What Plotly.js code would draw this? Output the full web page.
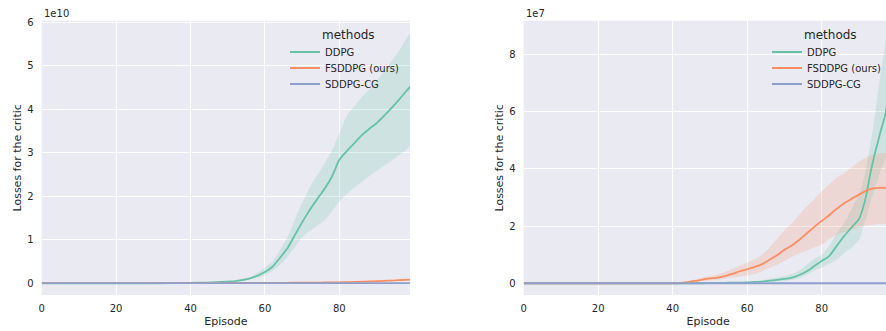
<!DOCTYPE html>
<html>
<head>
<meta charset="utf-8">
<script src="https://cdn.plot.ly/plotly-3.0.1.min.js"></script>
<style>
html,body{margin:0;padding:0;overflow:hidden;background:#fff;width:886px;height:331px;}
#chart{width:900px;height:331px;}
</style>
</head>
<body>
<div id="chart"></div>
<script>
// ---------- Data (left panel, values in units of 1e10) ----------
const episodesL = [0, 10, 20, 30, 40, 44, 48, 52, 56, 60, 62, 64, 66, 68, 70, 72, 74, 76, 78, 80, 82, 84, 86, 88, 90, 92, 94, 96, 98, 99];
const ddpgL      = [0, 0, 0, 0, 0.01, 0.015, 0.03, 0.05, 0.11, 0.26, 0.38, 0.58, 0.80, 1.10, 1.40, 1.68, 1.93, 2.17, 2.45, 2.84, 3.04, 3.22, 3.40, 3.55, 3.68, 3.85, 4.03, 4.22, 4.42, 4.52];
const ddpgLUp    = [0, 0, 0, 0, 0.012, 0.018, 0.035, 0.06, 0.14, 0.36, 0.50, 0.75, 1.05, 1.45, 1.85, 2.20, 2.48, 2.75, 3.05, 3.45, 3.85, 4.07, 4.27, 4.45, 4.65, 4.88, 5.10, 5.35, 5.62, 5.75];
const ddpgLLo    = [0, 0, 0, 0, 0.008, 0.012, 0.025, 0.04, 0.09, 0.18, 0.28, 0.42, 0.60, 0.82, 1.05, 1.20, 1.32, 1.45, 1.65, 1.88, 2.05, 2.20, 2.33, 2.46, 2.58, 2.70, 2.82, 2.94, 3.07, 3.15];
const fsddpgL    = [0.002, 0.002, 0.002, 0.003, 0.004, 0.004, 0.005, 0.006, 0.007, 0.008, 0.009, 0.010, 0.011, 0.012, 0.013, 0.014, 0.016, 0.018, 0.020, 0.022, 0.026, 0.030, 0.035, 0.040, 0.048, 0.055, 0.062, 0.070, 0.080, 0.085];
const sddpgL     = [0.004, 0.004, 0.004, 0.004, 0.004, 0.004, 0.004, 0.004, 0.004, 0.004, 0.004, 0.004, 0.004, 0.004, 0.004, 0.004, 0.004, 0.004, 0.004, 0.004, 0.004, 0.004, 0.004, 0.004, 0.004, 0.004, 0.004, 0.004, 0.004, 0.004];

// ---------- Data (right panel, values in units of 1e7) ----------
const episodesR = [0, 10, 20, 30, 40, 42, 44, 46, 48, 50, 52, 54, 56, 58, 60, 62, 64, 66, 68, 70, 72, 74, 76, 78, 80, 82, 84, 86, 88, 90, 91, 92, 93, 94, 95, 96, 97, 98, 99];
const ddpgR      = [0, 0, 0, 0, 0, 0, 0, 0, 0, 0.005, 0.01, 0.015, 0.02, 0.025, 0.03, 0.045, 0.06, 0.09, 0.12, 0.15, 0.20, 0.29, 0.42, 0.60, 0.78, 0.95, 1.30, 1.65, 1.95, 2.25, 2.60, 3.10, 3.80, 4.40, 4.90, 5.40, 5.85, 6.50, 7.10];
const ddpgRUp    = [0, 0, 0, 0, 0, 0, 0, 0, 0, 0.008, 0.015, 0.02, 0.03, 0.04, 0.05, 0.075, 0.10, 0.15, 0.20, 0.25, 0.32, 0.45, 0.65, 0.85, 1.00, 1.30, 1.75, 2.10, 2.60, 3.10, 3.50, 4.10, 4.80, 5.60, 6.60, 7.50, 8.30, 9.20, 10.0];
const ddpgRLo    = [0, 0, 0, 0, 0, 0, 0, 0, 0, 0.002, 0.005, 0.008, 0.01, 0.01, 0.01, 0.02, 0.03, 0.045, 0.06, 0.08, 0.12, 0.18, 0.30, 0.45, 0.55, 0.68, 0.82, 1.05, 1.25, 1.50, 1.90, 2.30, 2.80, 3.20, 3.60, 4.00, 4.30, 4.80, 5.20];
const fsddpgR    = [0, 0, 0, 0, 0, 0.01, 0.04, 0.08, 0.13, 0.17, 0.20, 0.25, 0.33, 0.42, 0.49, 0.57, 0.67, 0.82, 0.98, 1.17, 1.32, 1.52, 1.75, 1.97, 2.18, 2.38, 2.60, 2.80, 2.95, 3.10, 3.17, 3.24, 3.29, 3.32, 3.33, 3.34, 3.33, 3.32, 3.30];
const fsddpgRUp  = [0, 0, 0, 0, 0, 0.02, 0.06, 0.13, 0.20, 0.25, 0.30, 0.40, 0.50, 0.61, 0.72, 0.85, 1.00, 1.25, 1.55, 1.85, 2.10, 2.40, 2.68, 2.95, 3.22, 3.45, 3.70, 3.85, 4.05, 4.25, 4.33, 4.40, 4.46, 4.50, 4.53, 4.55, 4.55, 4.55, 4.55];
const fsddpgRLo  = [0, 0, 0, 0, 0, 0.005, 0.02, 0.05, 0.08, 0.10, 0.12, 0.16, 0.20, 0.24, 0.27, 0.32, 0.42, 0.53, 0.65, 0.78, 0.92, 1.05, 1.15, 1.25, 1.35, 1.55, 1.70, 1.78, 1.86, 1.95, 1.99, 2.02, 2.04, 2.05, 2.06, 2.07, 2.07, 2.08, 2.08];
const sddpgR     = episodesR.map(() => 0);

const methods = ["DDPG", "FSDDPG (ours)", "SDDPG-CG"];
const legendTitle = "methods";
const colors  = ["#66c2a5", "#fc8d62", "#8da0cb"];
const fills   = ["rgba(102,194,165,0.2)", "rgba(252,141,98,0.2)"];
const xTicks  = [0, 20, 40, 60, 80];

// ---------- Traces ----------
function band(x, lo, up, fill, xa, ya) {
  return [
    {x: x, y: lo, xaxis: xa, yaxis: ya, mode: "lines", line: {width: 0, shape: "spline", smoothing: 0.6}, hoverinfo: "skip", showlegend: false},
    {x: x, y: up, xaxis: xa, yaxis: ya, mode: "lines", line: {width: 0, shape: "spline", smoothing: 0.6}, fill: "tonexty", fillcolor: fill, hoverinfo: "skip", showlegend: false}
  ];
}
function line(x, y, i, xa, ya, leg) {
  return {x: x, y: y, xaxis: xa, yaxis: ya, mode: "lines", name: methods[i], legend: leg,
          line: {color: colors[i], width: 1.8, shape: "spline", smoothing: 0.6}};
}

// each legend entry gets its own legend box so the row spacing matches the original
const traces = [].concat(
  band(episodesL, ddpgLLo, ddpgLUp, fills[0], "x", "y"),
  [line(episodesL, ddpgL, 0, "x", "y", "legend"),
   line(episodesL, fsddpgL, 1, "x", "y", "legend3"),
   line(episodesL, sddpgL, 2, "x", "y", "legend4")],
  band(episodesR, ddpgRLo, ddpgRUp, fills[0], "x2", "y2"),
  band(episodesR, fsddpgRLo, fsddpgRUp, fills[1], "x2", "y2"),
  [line(episodesR, ddpgR, 0, "x2", "y2", "legend2"),
   line(episodesR, fsddpgR, 1, "x2", "y2", "legend5"),
   line(episodesR, sddpgR, 2, "x2", "y2", "legend6")]
);

// ---------- Layout ----------
const W = 900, H = 331;
const font = {family: "DejaVu Sans", size: 10, color: "#262626"};
function xAxis(dom, anchor) {
  return {domain: dom, anchor: anchor, range: [0, 99], tickvals: xTicks, ticktext: xTicks.map(String),
          showgrid: true, gridcolor: "#ffffff", gridwidth: 1, zeroline: false, showline: false,
          ticks: "", ticklabelstandoff: 6, tickfont: {size: 10, color: "#262626"},
          title: {text: "Episode", font: {size: 11, color: "#262626"}, standoff: 4}, automargin: false};
}
function yAxis(range, ticks, anchor) {
  return {domain: [(H - 295) / H, (H - 20.7) / H], anchor: anchor, range: range, tickvals: ticks, ticktext: ticks.map(String),
          showgrid: true, gridcolor: "#ffffff", gridwidth: 1, zeroline: false, showline: false,
          ticks: "", ticklabelstandoff: 7, tickfont: {size: 10, color: "#262626"},
          title: {text: "Losses for the critic", font: {size: 11, color: "#262626"}, standoff: 3}, automargin: false};
}
function rowLegend(xpx, ypx) {
  return {x: xpx / W, y: (H - ypx) / H, xanchor: "left", yanchor: "middle", bgcolor: "rgba(0,0,0,0)",
          borderwidth: 0, font: {size: 10, color: "#262626"}};
}
function note(text, xpx, ypx, xanchor, size) {
  return {text: text, xref: "paper", yref: "paper", x: xpx / W, y: (H - ypx) / H, xanchor: xanchor, yanchor: "middle",
          showarrow: false, font: {size: size, color: "#262626"}};
}

const layout = {
  width: W, height: H,
  margin: {l: 0, r: 0, t: 0, b: 0},
  paper_bgcolor: "#ffffff",
  plot_bgcolor: "#EAEAF2",
  font: font,
  xaxis: xAxis([41.7 / W, 410 / W], "y"),
  yaxis: yAxis([-0.27, 6.04], [0, 1, 2, 3, 4, 5, 6], "x"),
  xaxis2: xAxis([523.7 / W, 892.5 / W], "y2"),
  yaxis2: yAxis([-0.41, 9.18], [0, 2, 4, 6, 8], "x2"),
  legend:  rowLegend(285, 52),
  legend3: rowLegend(285, 68),
  legend4: rowLegend(285, 84),
  legend2: rowLegend(767, 52),
  legend5: rowLegend(767, 68),
  legend6: rowLegend(767, 84),
  annotations: [
    note("1e10", 42, 13, "left", 10),
    note("1e7", 524, 13, "left", 10),
    note(legendTitle, 348.5, 35, "center", 12),
    note(legendTitle, 830.5, 35, "center", 12)
  ]
};

Plotly.newPlot("chart", traces, layout, {displayModeBar: false, staticPlot: true});
</script>
</body>
</html>
